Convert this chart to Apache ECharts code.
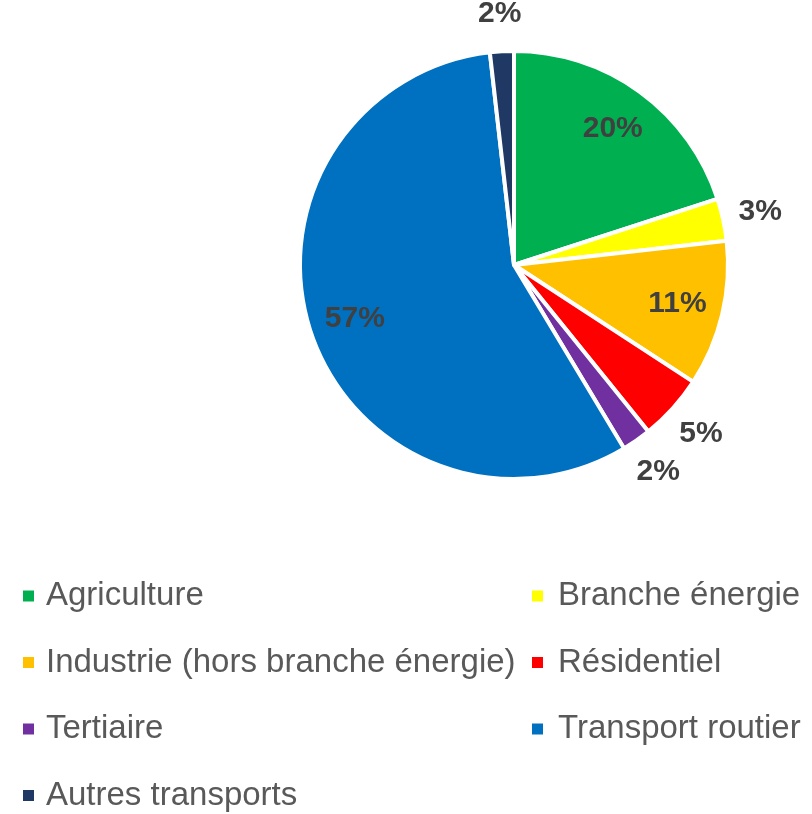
<!DOCTYPE html>
<html>
<head>
<meta charset="utf-8">
<script src="https://cdn.jsdelivr.net/npm/echarts@6/dist/echarts.min.js"></script>
<style>
  html, body { margin: 0; padding: 0; background: #ffffff; }
  #chart { width: 812px; height: 814px; }
</style>
</head>
<body>
<div id="chart"></div>
<script>
// secteurs et parts (en %)
const categories = [
  "Agriculture",
  "Branche énergie",
  "Industrie (hors branche énergie)",
  "Résidentiel",
  "Tertiaire",
  "Transport routier",
  "Autres transports"
];
const values = [20.0, 3.2, 11.0, 5.0, 2.2, 56.8, 1.8];
const colors = ["#00B050", "#FFFF00", "#FFC000", "#FF0000", "#7030A0", "#0070C0", "#203864"];
// les deux colonnes de la légende
const legendLeft = ["Agriculture", "Industrie (hors branche énergie)", "Tertiaire", "Autres transports"];
const legendRight = ["Branche énergie", "Résidentiel", "Transport routier"];

const FONT = "Liberation Sans, Arial, sans-serif";
const center = [514, 265];

const pieData = categories.map((name, i) => ({
  name: name,
  value: values[i],
  itemStyle: { color: colors[i] }
}));

// étiquettes: grandes parts dedans, petites dehors
const labelStyle = {
  position: "inside",
  fontFamily: FONT,
  fontSize: 30,
  fontWeight: "bold",
  color: "#404040",
  formatter: p => Math.round(p.value) + "%"
};
const innerLabels = categories.map((name, i) => ({
  name: name,
  value: values[i],
  label: { show: values[i] >= 10 }
}));
const outerLabels = categories.map((name, i) => ({
  name: name,
  value: values[i],
  label: { show: values[i] < 10 }
}));

function legendCol(left, textPad, names) {
  return {
    orient: "vertical",
    left: left,
    top: 578.5,
    padding: 0,
    itemWidth: 13,
    itemHeight: 13,
    itemGap: 31.5,
    icon: "rect",
    selectedMode: false,
    data: names,
    textStyle: {
      fontFamily: FONT,
      fontSize: 33,
      lineHeight: 35,
      color: "#595959",
      padding: [0, 0, 0, textPad]
    }
  };
}

const chart = echarts.init(document.getElementById("chart"));
chart.setOption({
  animation: false,
  legend: [
    legendCol(21, 6, legendLeft),
    legendCol(530, 9, legendRight)
  ],
  series: [
    {
      type: "pie",
      center: center,
      radius: [0, 214],
      startAngle: 90,
      clockwise: true,
      label: { show: false },
      labelLine: { show: false },
      itemStyle: { borderColor: "#ffffff", borderWidth: 4 },
      emphasis: { disabled: true },
      data: pieData
    },
    {
      type: "pie",
      center: center,
      radius: [116, 214],
      startAngle: 90,
      silent: true,
      itemStyle: { color: "transparent", borderWidth: 0 },
      label: labelStyle,
      labelLine: { show: false },
      emphasis: { disabled: true },
      data: innerLabels
    },
    {
      type: "pie",
      center: center,
      radius: [229, 269],
      startAngle: 90,
      silent: true,
      itemStyle: { color: "transparent", borderWidth: 0 },
      label: labelStyle,
      labelLine: { show: false },
      emphasis: { disabled: true },
      data: outerLabels
    }
  ]
});
</script>
</body>
</html>
